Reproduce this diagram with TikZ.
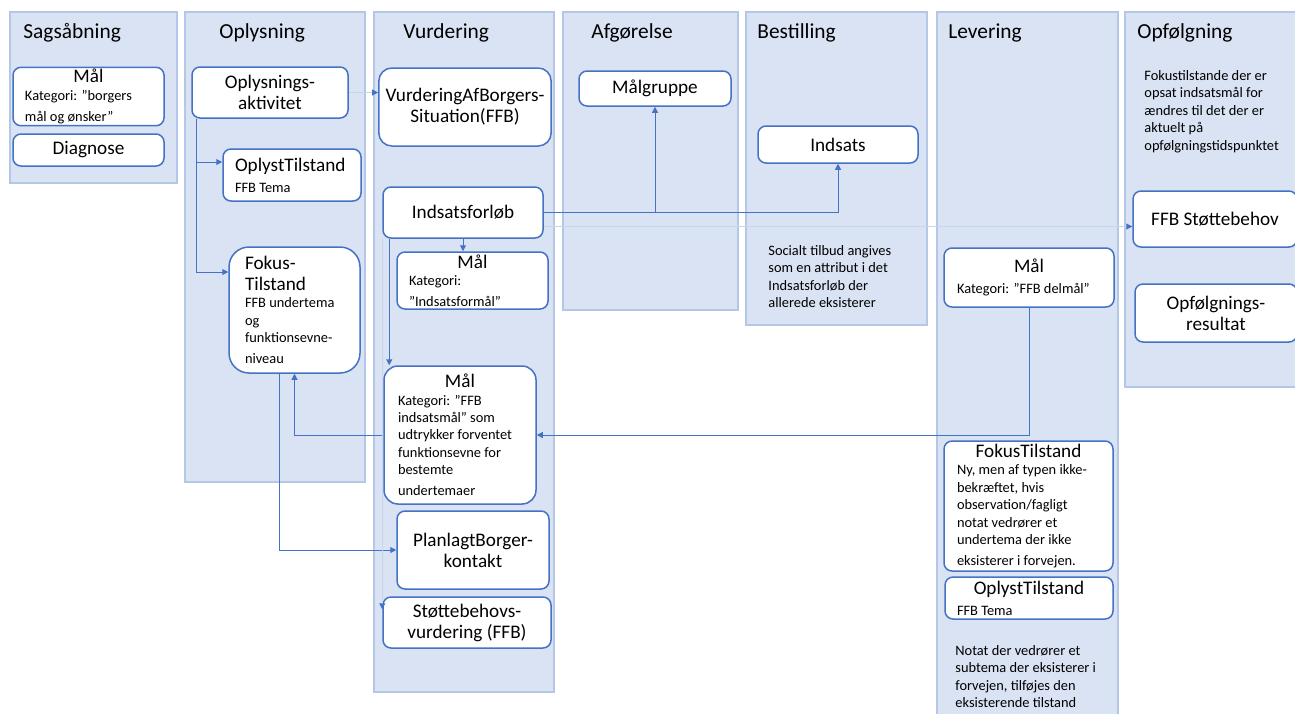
\documentclass[tikz,border=0pt]{standalone}
\usepackage{fontspec}
\setmainfont{Carlito}
\usetikzlibrary{arrows.meta}

\definecolor{lanefill}{HTML}{DAE3F3}
\definecolor{laneedge}{HTML}{B4C7E7}
\definecolor{boxedge}{HTML}{4472C4}

\newcommand\sm{\fontsize{7.2}{8.7}\selectfont\spaceskip=0pt\xspaceskip=0pt}
\newcommand\boxhead[1]{{\centering #1\par}}

\pgfdeclarelayer{lanes}
\pgfdeclarelayer{links}
\pgfsetlayers{lanes,links,main}

\tikzset{
  lane/.style={draw=laneedge, fill=lanefill, line width=0.7pt},
  lanetitle/.style={anchor=west, inner sep=0pt, font=\fontsize{10.7}{13}\selectfont},
  item/.style={draw=boxedge, fill=white, line width=0.75pt, rounded corners=4pt,
    align=center, inner ysep=1pt, font=\fontsize{9.6}{10.5}\selectfont},
  note/.style={anchor=north west, align=left, inner sep=0pt, font=\sm},
  link/.style={draw=boxedge, line width=0.5pt, -{Triangle[length=3pt,width=3pt]}},
  faint/.style={draw=boxedge!30, line width=0.5pt,
    -{Triangle[length=3pt,width=3pt,color=boxedge]}},
}

\begin{document}
\begin{tikzpicture}[x=0.5pt,y=-0.5pt]
  \useasboundingbox (0,0) rectangle (1295,713);

  % lanes with their titles
  \begin{pgfonlayer}{lanes}
    \foreach \key/\xa/\xb/\yb/\tx/\title in {sag/10/177/183/23/Sagsåbning,
        opl/185/365/482/219/Oplysning, vur/374/554/692/403/Vurdering,
        afg/563/738/310/591/Afgørelse, bes/746/927/325/757/Bestilling,
        lev/937/1118/720/948/Levering, opf/1125/1300/387/1137/Opfølgning} {
      \draw[lane] (\xa,12) rectangle (\xb,\yb);
      \node[lanetitle] (\key) at (\tx,33) {\title};
    }
  \end{pgfonlayer}

  % Sagsåbning
  \node[item, align=left, text width=63.5pt, inner xsep=6pt, minimum height=28.5pt]
    (sagsmaal) at (88.5,96.5) {\boxhead{Mål}\sm Kategori: ”borgers\\mål og ønsker”};
  \node[item, minimum width=75.5pt, minimum height=16pt] (diagnose) at (88.5,150) {Diagnose};

  % Oplysning
  \node[item, minimum width=78pt, minimum height=25.5pt] (oplakt) at (270,92.5)
    {Oplysnings-\\aktivitet};
  \node[item, align=left, text width=57pt, inner xsep=6pt, minimum height=26pt]
    (oplyst) at (292,175) {OplystTilstand\\\sm FFB Tema};
  \node[item, align=left, rounded corners=10pt, text width=49.5pt, inner xsep=8pt,
    minimum height=63pt] (fokus) at (294.5,310)
    {Fokus-\\Tilstand\par\sm FFB undertema\\og\\funktionsevne-\\niveau};

  % Vurdering
  \node[item, rounded corners=6.5pt, minimum width=86pt, minimum height=39pt]
    (vurdsit) at (465,107) {VurderingAfBorgers-\\Situation(FFB)};
  \node[item, minimum width=80pt, minimum height=25.5pt] (forloeb) at (463,212.5)
    {Indsatsforløb};
  \node[item, align=left, text width=63.5pt, inner xsep=6pt, minimum height=28.5pt]
    (formaal) at (472.5,280.5) {\boxhead{Mål}\sm Kategori:\\”Indsatsformål”};
  \node[item, align=left, rounded corners=7pt, text width=62pt, inner xsep=7pt,
    minimum height=69pt] (indsmaal) at (460,435)
    {\boxhead{Mål}\sm Kategori: ”FFB\\indsatsmål” som\\udtrykker forventet\\
     funktionsevne for\\bestemte\\undertemaer};
  \node[item, minimum width=76pt, minimum height=39pt] (planlagt) at (473,550)
    {PlanlagtBorger-\\kontakt};
  \node[item, minimum width=84pt, minimum height=25.5pt] (stoette) at (467,622.5)
    {Støttebehovs-\\vurdering (FFB)};

  % Afgørelse and Bestilling
  \node[item, minimum width=76pt, minimum height=17.5pt] (maalgruppe) at (655,88.5)
    {Målgruppe};
  \node[item, minimum width=80pt, minimum height=18.5pt] (indsats) at (838,144.5)
    {Indsats};
  \node[note] (tilbud) at (768,245)
    {Socialt tilbud angives\\som en attribut i det\\Indsatsforløb der\\allerede eksisterer};

  % Levering
  \node[item, align=left, text width=72pt, inner xsep=6.5pt, minimum height=29.5pt]
    (delmaal) at (1029,277.5) {\boxhead{Mål}\sm Kategori: ”FFB delmål”};
  \node[item, align=left, text width=71.5pt, inner xsep=6.5pt, minimum height=65pt]
    (fokusny) at (1028.5,506)
    {\boxhead{FokusTilstand}\sm Ny, men af typen ikke-\\bekræftet, hvis\\
     observation/fagligt\\notat vedrører et\\undertema der ikke\\eksisterer i forvejen.};
  \node[item, align=left, text width=72pt, inner xsep=6pt, minimum height=21pt]
    (oplystny) at (1029,598) {\boxhead{OplystTilstand}\sm FFB Tema};
  \node[note] (notat) at (955,645)
    {Notat der vedrører et\\subtema der eksisterer i\\forvejen, tilføjes den\\eksisterende tilstand};

  % Opfølgning
  \node[note] (aktuelt) at (1144,70)
    {Fokustilstande der er\\opsat indsatsmål for\\ændres til det der er\\aktuelt på\\opfølgningstidspunktet};
  \node[item, minimum width=82pt, minimum height=28pt] (stoettebehov) at (1215,219)
    {FFB Støttebehov};
  \node[item, minimum width=81pt, minimum height=29pt] (opfres) at (1216,313)
    {Opfølgnings-\\resultat};

  % connectors
  \begin{pgfonlayer}{links}
    \draw[link] ([xshift=2.5pt]oplakt.south west) |- ([yshift=6.5pt]oplyst.west);
    \draw[link] ([xshift=2.5pt]oplakt.south west) |- ([yshift=19pt]fokus.west);
    \draw[faint] (oplakt.east) -- (oplakt.east -| vurdsit.west);
    \draw[link] (forloeb.south) -- (forloeb.south |- formaal.north);
    \draw[link] (forloeb.east) -| (maalgruppe.south);
    \draw[link] (forloeb.east) -| (indsats.south);
    \draw[faint] ([yshift=-7pt]forloeb.east) -- ([yshift=-7pt]forloeb.east -| stoettebehov.west);
    \draw[link] ([xshift=3.5pt]forloeb.south west) -- ([xshift=3.5pt]forloeb.south west |- indsmaal.north);
    \draw[link] (indsmaal.west) -| (fokus.south);
    \draw[link] ([xshift=-7.5pt]fokus.south) |- (planlagt.west);
    \draw[link] (delmaal.south) |- (indsmaal.east);
  \end{pgfonlayer}
  \draw[faint] (forloeb.south west) -- ([yshift=-6.5pt]forloeb.south west |- stoette.north);
\end{tikzpicture}
\end{document}
